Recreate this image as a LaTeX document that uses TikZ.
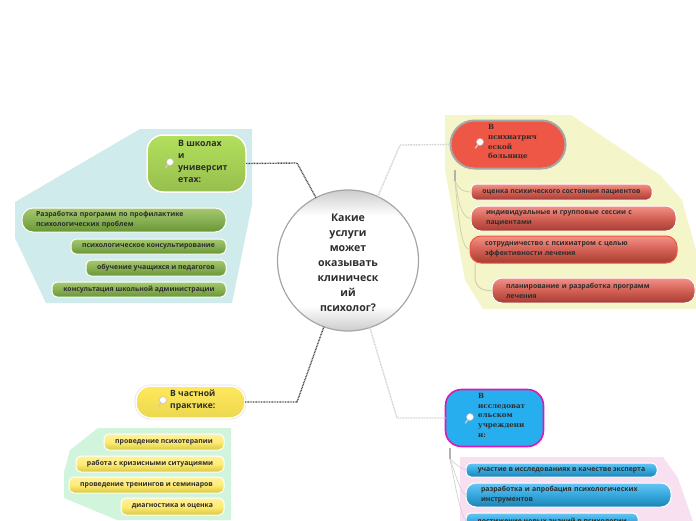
\documentclass[tikz,border=0pt]{standalone}
\usepackage{fontspec}
\setmainfont{Open Sans}
\newfontfamily\serifbold{DejaVu Serif}
\usetikzlibrary{calc}
\definecolor{mytext}{RGB}{45, 45, 45}
\definecolor{mygreen}{RGB}{178, 224, 92}
\definecolor{myred}{RGB}{238, 86, 70}
\definecolor{myyellow}{RGB}{255, 232, 92}
\definecolor{myblue}{RGB}{39, 174, 238}
\definecolor{mymagenta}{RGB}{222, 24, 176}
\definecolor{bgteal}{RGB}{208, 235, 235}
\definecolor{bgyellow}{RGB}{244, 245, 200}
\definecolor{bgmint}{RGB}{208, 245, 220}
\definecolor{bgpink}{RGB}{248, 224, 240}
\definecolor{leaftop}{RGB}{166, 200, 112}
\definecolor{leafmid}{RGB}{136, 176, 84}
\definecolor{leafbot}{RGB}{104, 150, 52}
\pgfdeclareverticalshading{ballshade}{100bp}{color(0bp)=(gray!40); color(25bp)=(gray!40); color(34bp)=(white); color(66bp)=(white); color(75bp)=(gray!40); color(100bp)=(gray!40)}
\tikzset{
  topicbox/.style={anchor=north west, align=left, text=mytext, inner sep=0pt, font=\fontsize{8.8}{12}\selectfont\bfseries},
  itembox/.style={anchor=north west, align=left, text=mytext, draw=white, line width=1pt, inner ysep=0pt, outer sep=0pt,
    font=\fontsize{6.9}{9.8}\selectfont\bfseries},
  itemgreen/.style={itembox, top color=leaftop, bottom color=leafbot, middle color=leafmid},
  itemred/.style={itembox, top color=myred!65!white, bottom color=myred!70!black, middle color=myred!75!gray},
  itemyellow/.style={itembox, top color=myyellow!60!white, bottom color=myyellow!70!olive, middle color=myyellow!85!white},
  itemblue/.style={itembox, top color=myblue!70!white, bottom color=myblue!75!black, middle color=myblue!85!gray},
  halo/.style={preaction={draw=gray!25, line width=2.8pt}},
  trunk/.style={line width=1.4pt, dash pattern=on 0.9pt off 0.7pt},
  twig/.style={line width=0.7pt, color=#1},
  lens/.pic={
    \draw[line width=1.4pt, color=gray!40, line cap=round] (-1.8,2.2) -- (-4.6,6);
    \fill[white] (0,0) circle (3.5);
    \draw[gray!50, line width=0.5pt] (0,0) circle (3.5);
  }
}
\begin{document}
\begin{tikzpicture}[x=1pt, y=-1pt]
  \useasboundingbox (0,0) rectangle (696,520);
  \clip (0,0) rectangle (696,520);

  % Backgrounds of the four groups
  \fill[bgteal] (140,129) -- (252,129) -- (252,205) -- (232,303) -- (46,303) -- (15,238) -- (15,202) -- cycle;
  \fill[bgyellow] (445,115) -- (571,115) -- (660,175) -- (682,200) -- (696,250) -- (696,309) -- (483,309) -- (465,280) -- (445,170) -- cycle;
  \fill[bgmint] (98,428) -- (231,428) -- (231,520) -- (117,520) -- (64,498) -- (64,472) -- (70,450) -- cycle;
  \fill[bgpink] (460,457) -- (663,457) -- (678,478) -- (696,530) -- (460,530) -- cycle;

  % Central question
  \node[circle, minimum size=141pt, inner sep=0pt, outer sep=0pt, draw=gray!70, line width=1.2pt, shading=ballshade] (center) at (348,260.5) {};
  \node[align=center, text=mytext, font=\fontsize{10.6}{15}\selectfont\bfseries] (question) at (348,262.5)
    {Какие\\услуги\\может\\оказывать\\клиническ\\ий\\психолог?};

  % Topics
  \node[halo, draw=white, line width=1.5pt, outer sep=0pt, top color=mygreen, middle color=mygreen, bottom color=mygreen!85!black, rounded corners=16pt, anchor=north west,
    minimum width=99pt, minimum height=57pt] (school) at (147,135) {};
  \node[draw=gray!70, line width=2pt, outer sep=0pt, fill=myred, rounded corners=24pt, anchor=north west,
    minimum width=115pt, minimum height=48pt] (clinic) at (450.5,120.5) {};
  \node[halo, draw=white, line width=1.5pt, outer sep=0pt, top color=myyellow, middle color=myyellow, bottom color=myyellow!85!olive, rounded corners=15pt, anchor=north west,
    minimum width=109pt, minimum height=32pt] (private) at (136,386) {};
  \node[draw=mymagenta, line width=1.6pt, outer sep=0pt, fill=myblue, rounded corners=16pt, anchor=north west,
    minimum width=98pt, minimum height=57pt] (research) at (445.5,389.5) {};

  % Main branches
  \coordinate (schoolbend) at (297,163);
  \coordinate (privatebend) at (297,402);
  \coordinate (clinicbend) at (400,145);
  \coordinate (researchbend) at (397,418);
  \draw[trunk, gray!60!black] (school.east) -- (schoolbend) -- (center.117);
  \draw[trunk, gray!60!black] (private.east) -- (privatebend) -- (center.-110);
  \draw[trunk, gray!35] (clinic.west) -- (clinicbend) -- (center.65);
  \draw[trunk, gray!35] (research.west) -- (researchbend) -- (center.-72);

  % Topic labels
  \node[topicbox] (schooltext) at (178,140) {В школах\\и\\университ\\етах:};
  \node[topicbox, font=\fontsize{7.1}{9.7}\selectfont\serifbold\bfseries] (clinictext) at (488,124.5) {В\\психиатрич\\еской\\больнице};
  \node[topicbox, font=\fontsize{8.6}{12.5}\selectfont\bfseries] (privatetext) at (170,389.5) {В частной\\практике:};
  \node[topicbox, font=\fontsize{7.1}{9.7}\selectfont\serifbold\bfseries] (researchtext) at (478,393) {В\\исследоват\\ельском\\учреждени\\и:};

  % Magnifiers
  \pic at (170,162) {lens};
  \pic at (480,142) {lens};
  \pic at (163,400) {lens};
  \pic at (470,417) {lens};

  % Twigs of the red topic
  \coordinate (clinicroot) at (455,170);
  \coordinate (clinicfork) at (455,181);
  \draw[twig=gray!60, line width=1.2pt] (clinicroot) -- (clinicfork);

  % Items of the green topic
  \node[itemgreen, rounded corners=11pt, text width=184pt, inner xsep=10pt, minimum height=24pt] (g1) at (22,208)
    {\hspace*{4pt}Разработка программ по профилактике\\\hspace*{4pt}психологических проблем};
  \node[itemgreen, rounded corners=5pt, align=center, minimum width=155pt, minimum height=15pt] (g2) at (71,239) {психологическое консультирование};
  \node[itemgreen, rounded corners=5pt, align=center, minimum width=140pt, minimum height=16pt] (g3) at (86,260) {обучение учащихся и педагогов};
  \node[itemgreen, rounded corners=5pt, align=center, minimum width=174pt, minimum height=15pt] (g4) at (52,282) {консультация школьной администрации};

  % Items of the red topic
  \node[itemred, rounded corners=5pt, align=center, minimum width=181pt, minimum height=16pt] (r1) at (471,184) {оценка психического состояния пациентов};
  \node[itemred, rounded corners=10pt, text width=175pt, inner xsep=15pt, minimum height=25pt] (r2) at (471,206) {индивидуальные и групповые сессии с\\пациентами};
  \node[itemred, draw=myred, rounded corners=11pt, text width=177pt, inner xsep=15pt, minimum height=27pt] (r3) at (470,236) {сотрудничество с психиатром с целью\\эффективности лечения};
  \node[itemred, rounded corners=10pt, text width=175pt, inner xsep=14pt, minimum height=25pt] (r4) at (492,278) {планирование и разработка программ\\лечения};
  \draw[twig=yellow!30!gray!60] (clinicfork) .. controls (459,190) and (464,192) .. (r1.west);
  \draw[twig=yellow!30!gray!60] (clinicfork) .. controls (459,205) and (462,218) .. (r2.west);
  \draw[twig=yellow!30!gray!60] (clinicfork) .. controls (459,225) and (462,250) .. (r3.west);
  \coordinate (r3foot) at (475,263);
  \draw[twig=yellow!30!gray!60, line width=1pt] (r3foot) -- (475,278) .. controls (476,288) and (483,291) .. (r4.west);

  % Items of the yellow topic
  \node[itemyellow, rounded corners=5pt, align=center, minimum width=120pt, minimum height=16pt] (y1) at (104,434) {проведение психотерапии};
  \node[itemyellow, rounded corners=5pt, align=center, minimum width=148pt, minimum height=16pt] (y2) at (76,456) {работа с кризисными ситуациями};
  \node[itemyellow, rounded corners=5pt, align=center, minimum width=155pt, minimum height=16pt] (y3) at (69,477) {проведение тренингов и семинаров};
  \node[itemyellow, rounded corners=5pt, align=center, minimum width=103pt, minimum height=17pt] (y4) at (121,498) {диагностика и оценка};

  % Items of the blue topic
  \node[itemblue, rounded corners=5pt, align=center, minimum width=191pt, minimum height=14pt] (b1) at (466,463) {участие в исследованиях в качестве эксперта};
  \node[itemblue, rounded corners=10pt, text width=175pt, inner xsep=15pt, minimum height=24pt] (b2) at (466,483) {разработка и апробация психологических\\инструментов};
  \node[itemblue, rounded corners=5pt, align=center, minimum width=172pt, minimum height=16pt] (b3) at (466,513) {достижение новых знаний в психологии};
  \coordinate (researchroot) at (450,448);
  \coordinate (researchfork) at (450,459);
  \draw[twig=gray!60, line width=1.2pt] (researchroot) -- (researchfork);
  \draw[twig=gray!35] (researchfork) .. controls (455,464) and (460,468) .. (b1.west);
  \draw[twig=gray!35] (researchfork) .. controls (456,475) and (460,492) .. (b2.west);
  \draw[twig=gray!35] (researchfork) .. controls (456,490) and (460,512) .. (b3.west);
\end{tikzpicture}
\end{document}
